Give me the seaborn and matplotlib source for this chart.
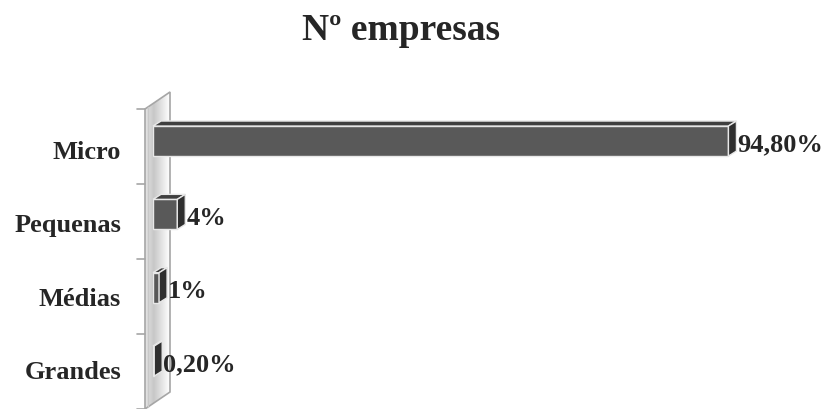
import numpy as np
import pandas as pd
import seaborn as sns
import matplotlib.pyplot as plt
from matplotlib.patches import Polygon
from matplotlib.transforms import ScaledTranslation

# data
categorias = ["Micro", "Pequenas", "Médias", "Grandes"]
valores = [94.8, 4, 1, 0.2]
rotulos = ["94,80%", "4%", "1%", "0,20%"]
titulo = "Nº empresas"

sns.set_style("white")
plt.rcParams['font.family'] = ['Liberation Serif', 'DejaVu Serif']
plt.rcParams['font.weight'] = 'bold'

W, H = 825, 410
fig = plt.figure(figsize=(W / 100, H / 100), dpi=100)

# background overlay in pixel coords (wall of the 3d chart)
bg = fig.add_axes([0, 0, 1, 1], zorder=0)
bg.set_xlim(0, W)
bg.set_ylim(0, H)
bg.axis('off')

ax = fig.add_axes([153 / W, 11.3 / H, 607 / W, 293.3 / H], zorder=1)
ax.patch.set_visible(False)

df = pd.DataFrame({"cat": categorias, "val": valores})
sns.barplot(data=df, x="val", y="cat", orient="h", color="#595959",
            width=0.41, edgecolor="#e8e8e8", linewidth=1.0, saturation=1, ax=ax)
ax.set_xlim(0, 100)
ax.set_ylim(3.5, -0.5)
ax.set_xlabel("")
ax.set_ylabel("")
ax.set_xticks([])
sns.despine(ax=ax, left=True, bottom=True)
ax.tick_params(axis='y', length=0, pad=23, labelsize=19)
for lbl in ax.get_yticklabels():
    lbl.set_fontweight('bold')
    lbl.set_transform(lbl.get_transform() + ScaledTranslation(0, -0.08, fig.dpi_scale_trans))

# wall: slanted panel left of the bars
axl = 153
wall = [(axl - 8, 0), (axl - 8, 300), (axl + 17, 317), (axl + 17, 17)]
grad = np.linspace(0, 1, 200)
grad = 0.78 + 0.22 * np.abs(grad - 0.35) / 0.65
img = bg.imshow(np.tile(grad, (50, 1)), cmap='gray', vmin=0, vmax=1,
                extent=(axl - 8, axl + 17, 0, 317), aspect='auto', zorder=1)
wpoly = Polygon(wall, closed=True, facecolor='none', edgecolor='#a6a6a6', lw=1.2, zorder=2)
bg.add_patch(wpoly)
img.set_clip_path(wpoly)
bg.plot([axl - 5, axl - 5], [2, 302], color='#c8c8c8', lw=1, zorder=2)
for k in range(5):
    yk = 300 - 75 * k
    bg.plot([axl - 16, axl - 8], [yk, yk], color='#a6a6a6', lw=1.2, zorder=2)

# 3d faces on each bar
dx, dy = 8, 5
for p in ax.patches:
    x0, y0 = p.get_x(), p.get_y()
    x1, y1 = x0 + p.get_width(), y0 + p.get_height()
    (px0, pyt), (px1, pyb) = ax.transData.transform([(x0, y0), (x1, y1)])
    top = [(px0, pyt), (px1, pyt), (px1 + dx, pyt + dy), (px0 + dx, pyt + dy)]
    side = [(px1, pyt), (px1 + dx, pyt + dy), (px1 + dx, pyb + dy), (px1, pyb)]
    for pts, col in [(top, '#3f3f3f'), (side, '#2f2f2f')]:
        fc = Polygon(pts, closed=True, facecolor=col, edgecolor='#e8e8e8',
                     lw=1.0, transform=bg.transData, clip_on=False, zorder=5)
        ax.add_patch(fc)

for i, (v, r) in enumerate(zip(valores, rotulos)):
    ax.annotate(r, xy=(v, i), xytext=(dx + 1, -3), textcoords='offset pixels',
                ha='left', va='center', fontsize=19, fontweight='bold')

fig.text(401 / W, 1 - 30 / H, titulo, ha='center', va='center',
         fontsize=27, fontweight='bold')

fig.savefig("out.png", dpi=100)
